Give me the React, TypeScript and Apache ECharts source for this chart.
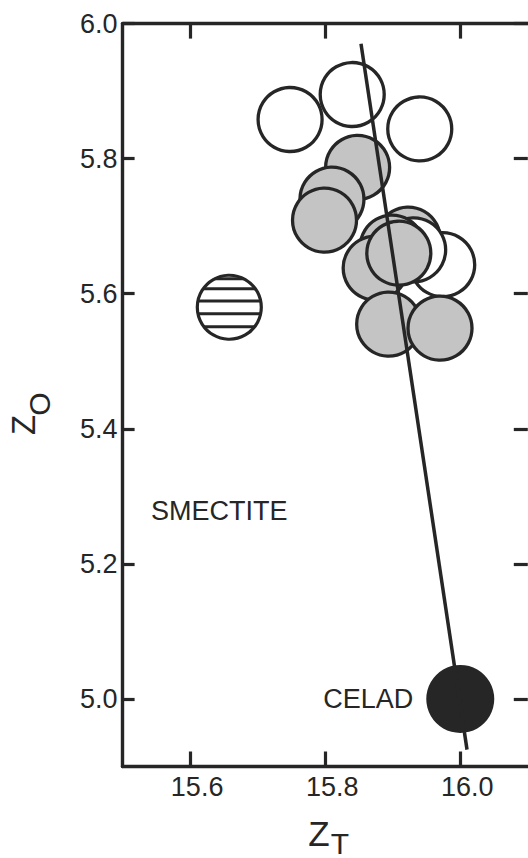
import React, { useEffect, useRef } from "react";
import * as echarts from "echarts";

const xTicks = [15.6, 15.8, 16.0];
const xTickLabels = ["15.6", "15.8", "16.0"];
const yTicks = [5.0, 5.2, 5.4, 5.6, 5.8, 6.0];
const yTickLabels = ["5.0", "5.2", "5.4", "5.6", "5.8", "6.0"];

// open circles drawn behind
const openBack = [
  [15.748, 5.858],
  [15.84, 5.895],
  [15.94, 5.844],
  [15.974, 5.643],
];
// stippled circles drawn behind
const grayBack = [
  [15.848, 5.787],
  [15.81, 5.74],
  [15.799, 5.709],
  [15.923, 5.681],
];
// open circle inside the cluster
const openFront = [[15.931, 5.665]];
// stippled circles in front
const grayFront = [
  [15.899, 5.669],
  [15.874, 5.638],
  [15.909, 5.66],
  [15.894, 5.555],
  [15.97, 5.549],
];
const smectitePoint = [[15.658, 5.58]];
const celadonitePoint = [[16.0, 5.0]];
const trendLine = [
  [15.853, 5.97],
  [16.01, 4.925],
];

const INK = "#262626";
const GRAY = "#c4c4c4";
const FONT = "'Liberation Sans', Arial, sans-serif";
const hatchOffsets = [-28.5, -18.5, -6.2, 6.5, 19.5];

export default function App() {
  const ref = useRef<HTMLDivElement>(null);
  useEffect(() => {
    if (!ref.current) return;
    const chart = echarts.init(ref.current, null, { renderer: "svg" });
    const scatter = (data: number[][], fill: string, z: number) => ({
      type: "scatter",
      data,
      symbol: "circle",
      symbolSize: 64,
      itemStyle: { color: fill, borderColor: INK, borderWidth: 3.3, opacity: 1 },
      z,
      silent: true,
    });
    const option: any = {
      animation: false,
      backgroundColor: "#ffffff",
      grid: {
        left: 122.6,
        top: 23.6,
        width: 405.2,
        height: 742.9,
        containLabel: false,
        outerBoundsMode: "none",
      },
      xAxis: [
        {
          type: "value",
          position: "bottom",
          min: 15.5,
          max: 16.1,
          axisLine: { show: true, lineStyle: { color: INK, width: 3.4 } },
          axisTick: {
            show: true,
            inside: true,
            length: 15,
            customValues: xTicks,
            lineStyle: { color: INK, width: 3.2 },
          },
          axisLabel: {
            show: true,
            customValues: xTicks,
            formatter: (v: number) => xTickLabels[xTicks.findIndex((t) => Math.abs(t - v) < 1e-6)] ?? "",
            color: INK,
            fontSize: 27,
            fontFamily: FONT,
            margin: 7,
            padding: [0, 0, 0, 14],
          },
          splitLine: { show: false },
        },
        {
          type: "value",
          position: "top",
          min: 15.5,
          max: 16.1,
          axisLine: { show: true, lineStyle: { color: INK, width: 3.4 } },
          axisTick: {
            show: true,
            inside: true,
            length: 15,
            customValues: xTicks,
            lineStyle: { color: INK, width: 3.2 },
          },
          axisLabel: { show: false },
          splitLine: { show: false },
        },
      ],
      yAxis: [
        {
          type: "value",
          position: "left",
          min: 4.9,
          max: 6.0,
          axisLine: { show: true, lineStyle: { color: INK, width: 3.4 } },
          axisTick: {
            show: true,
            inside: true,
            length: 12,
            customValues: yTicks,
            lineStyle: { color: INK, width: 3.2 },
          },
          axisLabel: {
            show: true,
            customValues: yTicks,
            formatter: (v: number) => yTickLabels[yTicks.findIndex((t) => Math.abs(t - v) < 1e-6)] ?? "",
            color: INK,
            fontSize: 27,
            fontFamily: FONT,
            margin: 5,
          },
          splitLine: { show: false },
        },
        {
          type: "value",
          position: "right",
          min: 4.9,
          max: 6.0,
          axisLine: { show: false },
          axisTick: {
            show: true,
            inside: true,
            length: 14,
            customValues: yTicks,
            lineStyle: { color: INK, width: 3.2 },
          },
          axisLabel: { show: false },
          splitLine: { show: false },
        },
      ],
      series: [
        scatter(openBack, "#ffffff", 2),
        scatter(grayBack, GRAY, 3),
        scatter(openFront, "#ffffff", 4),
        scatter(grayFront, GRAY, 5),
        {
          type: "custom",
          data: smectitePoint,
          z: 5,
          silent: true,
          renderItem: (_params: any, api: any) => {
            const c = api.coord([api.value(0), api.value(1)]);
            const r = 32;
            const children: any[] = [
              {
                type: "circle",
                shape: { cx: c[0], cy: c[1], r },
                style: { fill: "#ffffff", stroke: INK, lineWidth: 3.2 },
              },
            ];
            hatchOffsets.forEach((d) => {
              const h = Math.sqrt(r * r - d * d);
              children.push({
                type: "line",
                shape: { x1: c[0] - h, y1: c[1] + d, x2: c[0] + h, y2: c[1] + d },
                style: { stroke: INK, lineWidth: 3 },
              });
            });
            return { type: "group", children };
          },
        },
        {
          type: "scatter",
          data: celadonitePoint,
          symbol: "circle",
          symbolSize: 68,
          itemStyle: { color: INK, borderWidth: 0, opacity: 1 },
          z: 5,
          silent: true,
          label: {
            show: true,
            position: "left",
            distance: 13,
            formatter: "CELAD",
            color: INK,
            opacity: 1,
            fontSize: 27,
            fontFamily: FONT,
          },
        },
        {
          type: "line",
          data: trendLine,
          showSymbol: false,
          symbol: "none",
          lineStyle: { color: INK, width: 3.5 },
          z: 6,
          silent: true,
        },
      ],
      graphic: [
        {
          type: "text",
          x: 151,
          y: 511,
          style: {
            text: "SMECTITE",
            font: `27px ${FONT}`,
            fill: INK,
            textAlign: "left",
            textVerticalAlign: "middle",
          },
        },
        {
          type: "text",
          x: 319,
          y: 833,
          style: {
            text: "Z",
            font: `35px ${FONT}`,
            fill: INK,
            textAlign: "center",
            textVerticalAlign: "middle",
          },
        },
        {
          type: "text",
          x: 340,
          y: 843,
          style: {
            text: "T",
            font: `30px ${FONT}`,
            fill: INK,
            textAlign: "center",
            textVerticalAlign: "middle",
          },
        },
        {
          type: "text",
          x: 23.5,
          y: 425,
          rotation: Math.PI / 2,
          style: {
            text: "Z",
            font: `33px ${FONT}`,
            fill: INK,
            textAlign: "center",
            textVerticalAlign: "middle",
          },
        },
        {
          type: "text",
          x: 39.5,
          y: 404,
          rotation: Math.PI / 2,
          style: {
            text: "O",
            font: `30px ${FONT}`,
            fill: INK,
            textAlign: "center",
            textVerticalAlign: "middle",
          },
        },
      ],
    };
    chart.setOption(option);
    return () => chart.dispose();
  }, []);
  return (
    <div
      ref={ref}
      style={{ position: "fixed", left: 0, top: 0, width: 528, height: 858, background: "#ffffff" }}
    />
  );
}
